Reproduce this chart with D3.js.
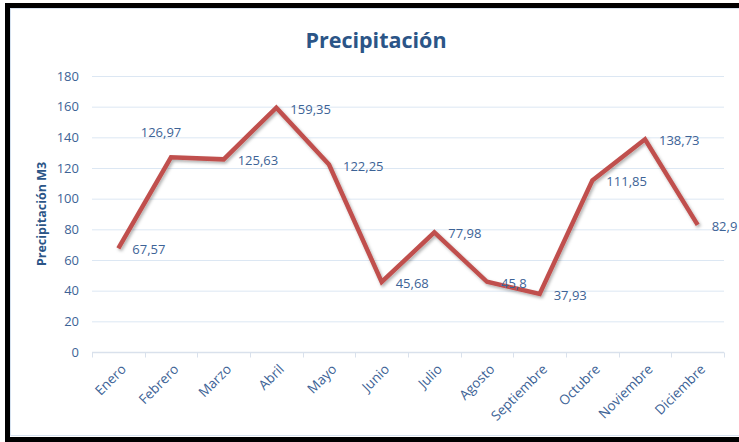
<!DOCTYPE html>
<html>
<head>
<meta charset="utf-8">
<script src="https://cdn.jsdelivr.net/npm/d3@7"></script>
<style>
  html, body { margin: 0; padding: 0; background: #ffffff; }
  svg { display: block; }
</style>
</head>
<body>
<svg id="chart" width="739" height="442"></svg>
<script>
// Monthly precipitation
const months = ["Enero", "Febrero", "Marzo", "Abril", "Mayo", "Junio", "Julio",
                "Agosto", "Septiembre", "Octubre", "Noviembre", "Diciembre"];
const precipitation = [67.57, 126.97, 125.63, 159.35, 122.25, 45.68, 77.98,
                       45.8, 37.93, 111.85, 138.73, 82.9];
const yTicks = [0, 20, 40, 60, 80, 100, 120, 140, 160, 180];
const chartTitle = "Precipitación";
const yAxisTitle = "Precipitación M3";

const svg = d3.select("#chart");
const textColor = "#3d6396";
const font = "'Open Sans', sans-serif";

const plot = { left: 92, right: 724, top: 76, bottom: 352 };

const x = d3.scaleBand().domain(months).range([plot.left, plot.right]).padding(0);
const y = d3.scaleLinear().domain([0, 180]).range([plot.bottom, plot.top]);

// Frame
svg.append("rect")
  .attr("x", 7.5).attr("y", 5.5)
  .attr("width", 800).attr("height", 434)
  .attr("fill", "#ffffff")
  .attr("stroke", "#000000").attr("stroke-width", 5);
svg.append("rect")
  .attr("x", 10.5).attr("y", 8.5)
  .attr("width", 800).attr("height", 427)
  .attr("fill", "none")
  .attr("stroke", "#d6e2f0").attr("stroke-width", 1);

// Title
svg.append("text")
  .attr("x", 376).attr("y", 48)
  .attr("text-anchor", "middle")
  .attr("font-family", font).attr("font-weight", 700)
  .attr("font-size", 21.5)
  .attr("fill", "#2b5587")
  .text(chartTitle);

// Horizontal gridlines
svg.append("g")
  .selectAll("line")
  .data(yTicks.filter(d => d > 0))
  .join("line")
  .attr("x1", plot.left).attr("x2", plot.right)
  .attr("y1", d => y(d) + 0.5).attr("y2", d => y(d) + 0.5)
  .attr("stroke", "#dce7f3").attr("stroke-width", 1);

// Y axis labels
const yAxis = d3.axisLeft(y).tickValues(yTicks).tickSize(0).tickPadding(0);
const gy = svg.append("g")
  .attr("transform", `translate(${plot.left - 13},0)`)
  .call(yAxis);
gy.select(".domain").remove();
gy.selectAll("text")
  .attr("font-family", font).attr("font-size", 13)
  .attr("fill", textColor);

// X axis with boundary ticks
const gx = svg.append("g").attr("transform", `translate(0,${plot.bottom + 0.5})`);
gx.append("line")
  .attr("x1", plot.left).attr("x2", plot.right)
  .attr("stroke", "#d9e1ec").attr("stroke-width", 1.5);
const boundaries = months.map(m => x(m)).concat([plot.right]);
gx.selectAll("line.tick")
  .data(boundaries)
  .join("line")
  .attr("class", "tick")
  .attr("x1", d => Math.round(d) + 0.5).attr("x2", d => Math.round(d) + 0.5)
  .attr("y1", 0).attr("y2", 5)
  .attr("stroke", "#d9e1ec").attr("stroke-width", 1);
gx.selectAll("text")
  .data(months)
  .join("text")
  .attr("transform", d => `translate(${x(d) + x.bandwidth() / 2 + 5},${14}) rotate(-45)`)
  .attr("text-anchor", "end")
  .attr("dominant-baseline", "central")
  .attr("font-family", font).attr("font-size", 13.5)
  .attr("fill", textColor)
  .text(d => d);

// Y axis title
svg.append("text")
  .attr("transform", `translate(46,${(plot.top + plot.bottom) / 2}) rotate(-90)`)
  .attr("text-anchor", "middle")
  .attr("font-family", font).attr("font-weight", 700)
  .attr("font-size", 12.5)
  .attr("fill", "#2b5587")
  .text(yAxisTitle);

// Line shadow
const defs = svg.append("defs");
const filt = defs.append("filter").attr("id", "shadow")
  .attr("x", "-10%").attr("y", "-10%").attr("width", "120%").attr("height", "120%");
filt.append("feDropShadow")
  .attr("dx", 1.5).attr("dy", 2).attr("stdDeviation", 1.5)
  .attr("flood-color", "#000000").attr("flood-opacity", 0.3);

const data = months.map((m, i) => ({ month: m, value: precipitation[i] }));
const line = d3.line()
  .x(d => x(d.month) + x.bandwidth() / 2)
  .y(d => y(d.value));

svg.append("path")
  .datum(data)
  .attr("d", line)
  .attr("fill", "none")
  .attr("stroke", "#c0504d")
  .attr("stroke-width", 4.5)
  .attr("stroke-linejoin", "miter")
  .attr("filter", "url(#shadow)");

// Value labels (Febrero sits above its point)
const fmt = v => String(v).replace(".", ",");
svg.append("g")
  .selectAll("text")
  .data(data)
  .join("text")
  .attr("x", d => x(d.month) + x.bandwidth() / 2 + (d.month === "Febrero" ? -10 : 14))
  .attr("y", d => y(d.value) + (d.month === "Febrero" ? -25 : 1))
  .attr("text-anchor", d => d.month === "Febrero" ? "middle" : "start")
  .attr("dominant-baseline", "central")
  .attr("font-family", font).attr("font-size", 13)
  .attr("fill", textColor)
  .text(d => fmt(d.value));
</script>
</body>
</html>
